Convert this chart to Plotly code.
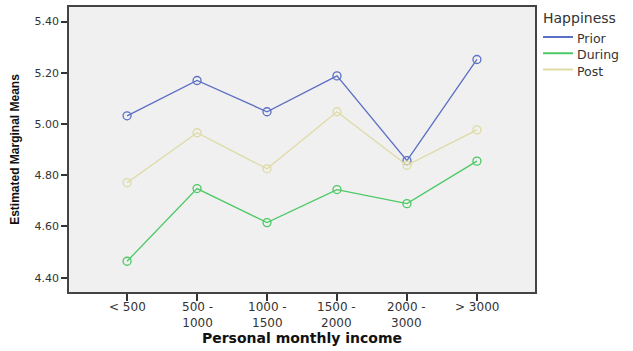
import plotly.graph_objects as go

# Income groups and estimated marginal means of happiness
income = ["< 500", "500 -<br>1000", "1000 -<br>1500", "1500 -<br>2000", "2000 -<br>3000", "> 3000"]
prior = [5.032, 5.170, 5.048, 5.188, 4.857, 5.252]
during = [4.464, 4.748, 4.615, 4.744, 4.689, 4.855]
post = [4.771, 4.966, 4.825, 5.048, 4.839, 4.977]
series_names = ["Prior", "During", "Post"]
series_colors = ["#5b6fc4", "#4cc864", "#dedaa4"]
legend_title = "Happiness"

W, H = 633, 351
ML, MR, MT, MB = 69, 98, 7, 59
PW, PH = W - ML - MR, H - MT - MB


def px(x):
    """Pixel column -> paper x."""
    return (x - ML) / PW


def py(y):
    """Pixel row -> paper y."""
    return (H - MB - y) / PH


fig = go.Figure()
xs = list(range(len(income)))
for name, vals, color in zip(series_names, [prior, during, post], series_colors):
    fig.add_trace(go.Scatter(
        x=xs, y=vals, name=name, mode="lines+markers", showlegend=False,
        line=dict(color=color, width=1.3),
        marker=dict(symbol="circle-open", size=8, color=color, line=dict(width=1.3)),
    ))

annotations = []
shapes = []

# Category labels, top-aligned under each tick
for i, lab in enumerate(income):
    annotations.append(dict(
        x=i, xref="x", y=0, yref="paper", yanchor="top", xanchor="center",
        yshift=-6, text=lab, showarrow=False,
        font=dict(family="DejaVu Sans", size=12, color="#333333"),
    ))

# Legend block: title, stacked names, and a line sample per series
leg_size = 12.5
leg_step = leg_size * 1.3
annotations.append(dict(
    x=px(542), y=py(18), xref="paper", yref="paper", xanchor="left", yanchor="middle",
    text=legend_title, showarrow=False, borderpad=0,
    font=dict(family="DejaVu Sans", size=14, color="#333333"),
))
annotations.append(dict(
    x=px(576), y=py(30), xref="paper", yref="paper", xanchor="left", yanchor="top",
    text="<br>".join(series_names), align="left", showarrow=False, borderpad=0,
    font=dict(family="DejaVu Sans", size=leg_size, color="#333333"),
))
for i, color in enumerate(series_colors):
    ly = 37 + leg_step * i
    shapes.append(dict(type="line", xref="paper", yref="paper",
                       x0=px(543), x1=px(573), y0=py(ly), y1=py(ly),
                       line=dict(color=color, width=2)))

fig.update_layout(
    width=W, height=H,
    margin=dict(l=ML, r=MR, t=MT, b=MB),
    paper_bgcolor="white",
    plot_bgcolor="#f0f0f0",
    font=dict(family="DejaVu Sans, sans-serif", size=12, color="#333333"),
    showlegend=False,
    annotations=annotations,
    shapes=shapes,
    xaxis=dict(
        range=[-0.83, 5.83], automargin=False,
        tickmode="array", tickvals=xs, showticklabels=False,
        ticks="outside", ticklen=7, tickcolor="#333333", tickwidth=1.5,
        showgrid=False, zeroline=False,
        showline=True, linecolor="#444444", linewidth=1.5, mirror=True,
        title=dict(text="<b>Personal monthly income</b>", standoff=33,
                   font=dict(family="DejaVu Sans", size=14, color="#111111")),
    ),
    yaxis=dict(
        range=[4.344, 5.457], automargin=False,
        tickvals=[4.4, 4.6, 4.8, 5.0, 5.2, 5.4], tickformat=".2f",
        ticks="outside", ticklen=6, tickcolor="#333333", tickwidth=1.5,
        showgrid=False, zeroline=False,
        showline=True, linecolor="#444444", linewidth=1.5, mirror=True,
        tickfont=dict(family="DejaVu Sans", size=11, color="#333333"),
        title=dict(text="<b>Estimated Marginal Means</b>", standoff=12,
                   font=dict(family="Liberation Sans", size=12, color="#111111")),
    ),
)

fig.write_html("out.html")
